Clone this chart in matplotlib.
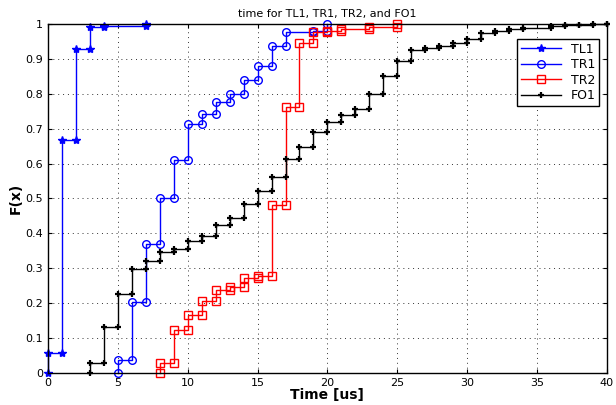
import numpy as np
import matplotlib.pyplot as plt

# jump positions (us) and ecdf value after each jump
tl1_x = [0, 1, 2, 3, 4, 7]
tl1_f = [0.057, 0.667, 0.929, 0.990, 0.995, 1.0]

tr1_x = [5, 6, 7, 8, 9, 10, 11, 12, 13, 14, 15, 16, 17, 19, 20]
tr1_f = [0.036, 0.202, 0.370, 0.502, 0.610, 0.712, 0.743, 0.777, 0.799,
         0.838, 0.879, 0.938, 0.976, 0.981, 1.0]

tr2_x = [8, 9, 10, 11, 12, 13, 14, 15, 16, 17, 18, 19, 20, 21, 23, 25]
tr2_f = [0.029, 0.124, 0.165, 0.206, 0.238, 0.245, 0.271, 0.278, 0.481,
         0.763, 0.946, 0.976, 0.981, 0.986, 0.992, 1.0]

fo1_x = [3, 4, 5, 6, 7, 8, 9, 10, 11, 12, 13, 14, 15, 16, 17, 18, 19, 20,
         21, 22, 23, 24, 25, 26, 27, 28, 29, 30, 31, 32, 33, 34, 36, 37, 38,
         39, 40]
fo1_f = [0.029, 0.131, 0.227, 0.298, 0.322, 0.348, 0.355, 0.378, 0.393,
         0.424, 0.445, 0.483, 0.522, 0.562, 0.614, 0.648, 0.689, 0.720,
         0.740, 0.755, 0.799, 0.851, 0.894, 0.924, 0.930, 0.937, 0.945,
         0.958, 0.975, 0.979, 0.985, 0.988, 0.993, 0.996, 0.998, 0.999, 1.0]


def stairs(x, f):
    # matlab style stairs: corner points, marker at every vertex
    xs = np.repeat(x, 2)
    ys = np.concatenate(([0.0], np.repeat(f, 2)[:-1]))
    return xs, ys


fig = plt.figure(figsize=(6.16, 4.05), dpi=100)
ax = fig.add_axes([0.078, 0.079, 0.907, 0.862])

xs, ys = stairs(tl1_x, tl1_f)
ax.plot(xs, ys, '-', color='blue', marker='*', ms=6, lw=1.0, label='TL1', clip_on=False)
xs, ys = stairs(tr1_x, tr1_f)
ax.plot(xs, ys, '-', color='blue', marker='o', ms=5.5, mfc='none', lw=1.0, label='TR1', clip_on=False)
xs, ys = stairs(tr2_x, tr2_f)
ax.plot(xs, ys, '-', color='red', marker='s', ms=6, mfc='none', lw=1.0, label='TR2', clip_on=False)
xs, ys = stairs(fo1_x, fo1_f)
ax.plot(xs, ys, '-', color='black', marker='+', ms=5, mew=1.6, lw=1.0, label='FO1', clip_on=False)

ax.set_xlim(0, 40)
ax.set_ylim(0, 1)
ax.set_xticks(range(0, 41, 5))
ax.set_yticks(np.arange(0, 1.01, 0.1))
ax.set_yticklabels(['0', '0.1', '0.2', '0.3', '0.4', '0.5', '0.6', '0.7', '0.8', '0.9', '1'])
ax.tick_params(direction='in', labelsize=8, length=3, top=True, right=True)
ax.grid(True, linestyle=(0, (1, 4)), color='#333333', linewidth=0.7)
for s in ax.spines.values():
    s.set_linewidth(1.0)

ax.set_xlabel('Time [us]', fontsize=10, fontweight='bold', labelpad=0)
ax.set_ylabel('F(x)', fontsize=10, fontweight='bold', labelpad=2)
ax.set_title('time for TL1, TR1, TR2, and FO1', fontsize=8, pad=5)

leg = ax.legend(loc='upper right', bbox_to_anchor=(0.998, 0.975), fontsize=9,
                numpoints=1, handlelength=3.2, fancybox=False, framealpha=1,
                edgecolor='black', borderpad=0.3, labelspacing=0.2)
leg.get_frame().set_linewidth(1.0)

fig.savefig('out.png', dpi=100)
